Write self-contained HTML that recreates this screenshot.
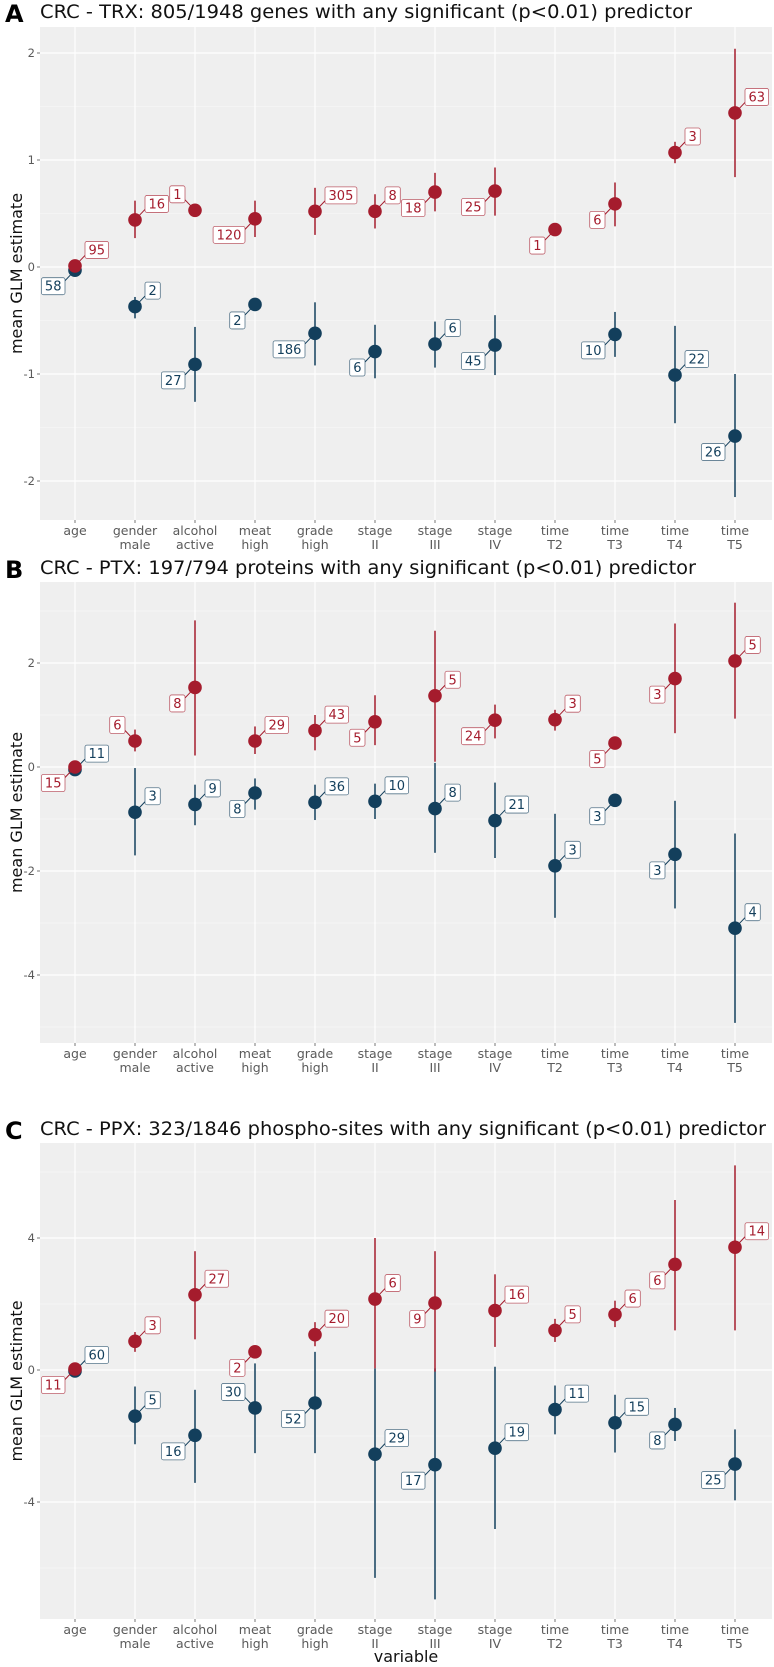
<!DOCTYPE html>
<html><head><meta charset="utf-8"><style>
body{margin:0;background:#fff;width:774px;height:1667px;overflow:hidden}
svg{display:block;font-family:"DejaVu Sans","Liberation Sans",sans-serif}
</style></head><body>
<svg id="chart" width="774" height="1667" viewBox="0 0 774 1667" xmlns="http://www.w3.org/2000/svg"></svg>
<script>
const categories = ["age","gender male","alcohol active","meat high","grade high","stage II","stage III","stage IV","time T2","time T3","time T4","time T5"];
// Panel A (TRX)
const aRedEst = [0.01,0.44,0.53,0.45,0.52,0.52,0.70,0.71,0.35,0.59,1.07,1.44];
const aRedLo  = [null,0.27,null,0.28,0.30,0.36,0.52,0.48,null,0.38,0.97,0.84];
const aRedHi  = [null,0.62,null,0.62,0.74,0.68,0.88,0.93,null,0.79,1.17,2.04];
const aRedN   = [95,16,1,120,305,8,18,25,1,6,3,63];
const aRedDir = ["ur","ur","ul","dl","ur","ur","dl","dl","dl","dl","ur","ur"];
const aBlueEst = [-0.03,-0.37,-0.91,-0.35,-0.62,-0.79,-0.72,-0.73,null,-0.63,-1.01,-1.58];
const aBlueLo  = [null,-0.48,-1.26,null,-0.92,-1.04,-0.94,-1.01,null,-0.84,-1.46,-2.15];
const aBlueHi  = [null,-0.28,-0.56,null,-0.33,-0.54,-0.51,-0.45,null,-0.42,-0.55,-1.00];
const aBlueN   = [58,2,27,2,186,6,6,45,null,10,22,26];
const aBlueDir = ["dl","ur","dl","dl","dl","dl","ur","dl","dl","dl","ur","dl"];
const aTicks = [2,1,0,-1,-2];
// Panel B (PTX)
const bRedEst = [0.0,0.5,1.53,0.5,0.7,0.87,1.37,0.9,0.91,0.46,1.70,2.04];
const bRedLo  = [null,0.3,0.22,0.25,0.32,0.42,0.1,0.55,0.7,null,0.65,0.93];
const bRedHi  = [null,0.72,2.82,0.78,1.0,1.38,2.62,1.2,1.1,null,2.76,3.16];
const bRedN   = [15,6,8,29,43,5,5,24,3,5,3,5];
const bRedDir = ["dl","ul","dl","ur","ur","dl","ur","dl","ur","dl","dl","ur"];
const bBlueEst = [-0.05,-0.87,-0.72,-0.5,-0.68,-0.66,-0.8,-1.03,-1.9,-0.64,-1.68,-3.1];
const bBlueLo  = [null,-1.7,-1.12,-0.82,-1.02,-1.0,-1.65,-1.75,-2.9,-0.76,-2.72,-4.92];
const bBlueHi  = [null,-0.02,-0.34,-0.22,-0.34,-0.32,0.08,-0.3,-0.9,-0.54,-0.65,-1.28];
const bBlueN   = [11,3,9,8,36,10,8,21,3,3,3,4];
const bBlueDir = ["ur","ur","ur","dl","ur","ur","ur","ur","ur","dl","dl","ur"];
const bTicks = [2,0,-2,-4];
// Panel C (PPX)
const cRedEst = [0.03,0.87,2.28,0.55,1.07,2.15,2.03,1.8,1.2,1.68,3.2,3.72];
const cRedLo  = [null,0.55,0.93,null,0.72,0.05,-0.05,0.7,0.85,1.3,1.2,1.2];
const cRedHi  = [null,1.15,3.6,null,1.45,4.0,3.6,2.9,1.55,2.1,5.15,6.2];
const cRedN   = [11,3,27,2,20,6,9,16,5,6,6,14];
const cRedDir = ["dl","ur","ur","dl","ur","ur","dl","ur","ur","ur","dl","ur"];
const cBlueEst = [-0.03,-1.4,-1.98,-1.15,-1.0,-2.55,-2.87,-2.37,-1.2,-1.6,-1.65,-2.85];
const cBlueLo  = [null,-2.25,-3.42,-2.52,-2.52,-6.3,-6.95,-4.82,-1.95,-2.5,-2.15,-3.95];
const cBlueHi  = [null,-0.5,-0.6,0.2,0.55,0.05,0.05,0.1,-0.47,-0.75,-1.15,-1.8];
const cBlueN   = [60,5,16,30,52,29,17,19,11,15,8,25];
const cBlueDir = ["ur","ur","dl","ul","dl","ur","dl","ur","ur","ur","dl","dl"];
const cTicks = [4,0,-4];

const NS="http://www.w3.org/2000/svg";
const svg=document.getElementById('chart');
const RED="#a51c2d", BLUE="#133f5c";
function mk(tag,attrs,parent){const e=document.createElementNS(NS,tag);for(const k in attrs)e.setAttribute(k,attrs[k]);(parent||svg).appendChild(e);return e;}
const X0=40,X1=772;
function xScale(i){return 75+60*i;}

function panel(cfg){
  const g=mk('g',{});
  
  
  const y=v=>cfg.zeroY-v*cfg.unit;
  const bg=mk('rect',{x:X0,y:cfg.top,width:X1-X0,height:cfg.bottom-cfg.top,fill:'#efefef'},g);
  
  
  const vmax=(cfg.zeroY-cfg.top)/cfg.unit, vmin=(cfg.zeroY-cfg.bottom)/cfg.unit;
  for(let v=Math.floor(vmin/cfg.step)*cfg.step-cfg.step/2; v<=vmax; v+=cfg.step){
    if(v<vmin)continue;
    mk('line',{x1:X0,x2:X1,y1:y(v),y2:y(v),stroke:'#fafafa','stroke-width':0.6},g);
  }
  cfg.ticks.forEach(t=>{
    const ln=mk('line',{x1:X0,x2:X1,y1:y(t),y2:y(t),stroke:'#fff','stroke-width':1.2},g);
    
    
    mk('line',{x1:X0-3,x2:X0,y1:y(t),y2:y(t),stroke:'#555','stroke-width':0.8},g);
    const tx=mk('text',{x:X0-5,y:y(t)+4,'text-anchor':'end','font-size':11.5,fill:'#5a5a5a'},g);
    tx.textContent=t;
    
    
  });
  categories.forEach((c,i)=>{
    const ln=mk('line',{x1:xScale(i),x2:xScale(i),y1:cfg.top,y2:cfg.bottom,stroke:'#fff','stroke-width':1.2},g);
    
    
    mk('line',{x1:xScale(i),x2:xScale(i),y1:cfg.bottom,y2:cfg.bottom+3,stroke:'#555','stroke-width':0.8},g);
    const parts=c.split(' ');
    parts.forEach((p,k)=>{
      const tx=mk('text',{x:xScale(i),y:cfg.bottom+15+k*14,'text-anchor':'middle','font-size':12.5,fill:'#5a5a5a'},g);
      tx.textContent=p;
      
      
    });
  });
  const lt=mk('text',{x:5,y:cfg.titleY+4,'font-size':24,'font-weight':'bold',fill:'#000'},g);
  lt.textContent=cfg.letter;
  
  
  const tt=mk('text',{x:40,y:cfg.titleY,'font-size':19,fill:'#111',textLength:cfg.titleLen,lengthAdjust:'spacingAndGlyphs'},g);
  tt.textContent=cfg.title;
  
  
  const ya=mk('text',{x:0,y:0,'font-size':16,'text-anchor':'middle',fill:'#111',transform:`translate(22,${(cfg.top+cfg.bottom)/2}) rotate(-90)`},g);
  ya.textContent='mean GLM estimate';
  
  

  function series(est,lo,hi,n,dir,color,name){
    est.forEach((v,i)=>{
      if(v===null)return;
      const cx=xScale(i);
      if(lo[i]!==null){
        const e=mk('line',{x1:cx,x2:cx,y1:y(hi[i]),y2:y(lo[i]),stroke:color,'stroke-width':1.5},g);
        
        
      }
    });
    est.forEach((v,i)=>{
      if(v===null)return;
      const cx=xScale(i), cy=y(v);
      const d=dir[i];
      const s=String(n[i]);
      const w=s.length*8.3+7, h=17;
      const dx=d[1]==='r'?10:-10, dy=d[0]==='u'?-16:16;
      const lx=cx+dx, ly=cy+dy;
      const bx=d[1]==='r'?lx:lx-w, by=ly-h/2;
      mk('line',{x1:cx,y1:cy,x2:lx,y2:ly+(d[0]==='u'?h/2-3:-h/2+3),stroke:color,'stroke-width':1},g);
      const c=mk('circle',{cx:cx,cy:cy,r:6.8,fill:color},g);
      
      
      const r=mk('rect',{x:bx,y:by,width:w,height:h,rx:2,fill:'#fff',stroke:color,'stroke-width':0.8,'stroke-opacity':0.7},g);
      
      
      const t=mk('text',{x:bx+w/2,y:by+13,'text-anchor':'middle','font-size':13,fill:color},g);
      t.textContent=s;
      
      
    });
  }
  series(cfg.blue[0],cfg.blue[1],cfg.blue[2],cfg.blue[3],cfg.blue[4],BLUE,'negative');
  series(cfg.red[0],cfg.red[1],cfg.red[2],cfg.red[3],cfg.red[4],RED,'positive');
}

panel({letter:'A',title:'CRC - TRX: 805/1948 genes with any significant (p<0.01) predictor',titleLen:652,titleY:18,top:27,bottom:520,zeroY:267,unit:107,step:1,ticks:aTicks,
  red:[aRedEst,aRedLo,aRedHi,aRedN,aRedDir],blue:[aBlueEst,aBlueLo,aBlueHi,aBlueN,aBlueDir]});
panel({letter:'B',title:'CRC - PTX: 197/794 proteins with any significant (p<0.01) predictor',titleLen:656,titleY:574,top:582,bottom:1043,zeroY:767,unit:52,step:2,ticks:bTicks,
  red:[bRedEst,bRedLo,bRedHi,bRedN,bRedDir],blue:[bBlueEst,bBlueLo,bBlueHi,bBlueN,bBlueDir]});
panel({letter:'C',title:'CRC - PPX: 323/1846 phospho-sites with any significant (p<0.01) predictor',titleLen:726,titleY:1135,top:1143,bottom:1619,zeroY:1370,unit:33,step:4,ticks:cTicks,
  red:[cRedEst,cRedLo,cRedHi,cRedN,cRedDir],blue:[cBlueEst,cBlueLo,cBlueHi,cBlueN,cBlueDir]});

const xt=mk('text',{x:406,y:1662,'text-anchor':'middle','font-size':16,fill:'#111'});
xt.textContent='variable';


</script>
</body></html>
